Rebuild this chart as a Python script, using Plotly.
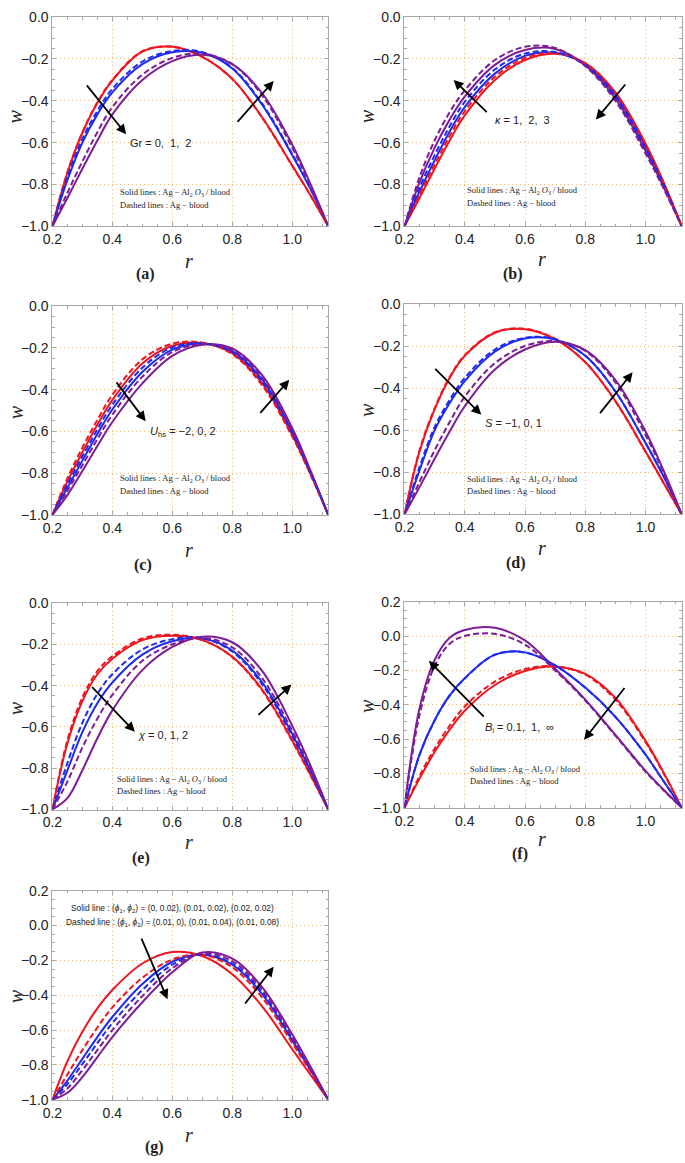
import plotly.graph_objects as go

# ---------------- data ----------------
R = [0.2, 0.25, 0.3, 0.35, 0.4, 0.5, 0.6, 0.7, 0.8, 0.9, 1.0, 1.06, 1.12]

# (a) Gr = 0, 1, 2
a_red_solid = [-1, -0.745, -0.554, -0.41, -0.303, -0.165, -0.142, -0.19, -0.295, -0.48, -0.71, -0.85, -1]
a_red_dash = [-1, -0.742, -0.551, -0.407, -0.30, -0.163, -0.141, -0.19, -0.296, -0.482, -0.712, -0.851, -1]
a_blue_solid = [-1, -0.78, -0.60, -0.465, -0.36, -0.225, -0.168, -0.17, -0.245, -0.42, -0.66, -0.82, -1]
a_blue_dash = [-1, -0.765, -0.582, -0.448, -0.343, -0.212, -0.162, -0.167, -0.243, -0.415, -0.655, -0.817, -1]
a_purple_solid = [-1, -0.865, -0.725, -0.59, -0.465, -0.30, -0.21, -0.18, -0.225, -0.365, -0.61, -0.796, -1]
a_purple_dash = [-1, -0.84, -0.69, -0.55, -0.43, -0.275, -0.195, -0.175, -0.225, -0.375, -0.625, -0.805, -1]

# (b) kappa = 1, 2, 3
b_red_solid = [-1, -0.865, -0.725, -0.59, -0.47, -0.30, -0.205, -0.175, -0.22, -0.36, -0.605, -0.79, -1]
b_red_dash = [-1, -0.85, -0.705, -0.568, -0.45, -0.285, -0.195, -0.172, -0.222, -0.365, -0.612, -0.795, -1]
b_blue_solid = [-1, -0.835, -0.685, -0.547, -0.43, -0.27, -0.185, -0.17, -0.226, -0.372, -0.62, -0.80, -1]
b_blue_dash = [-1, -0.815, -0.66, -0.522, -0.405, -0.25, -0.174, -0.167, -0.23, -0.38, -0.628, -0.805, -1]
b_purple_solid = [-1, -0.79, -0.625, -0.49, -0.38, -0.228, -0.157, -0.152, -0.23, -0.39, -0.64, -0.812, -1]
b_purple_dash = [-1, -0.765, -0.59, -0.455, -0.35, -0.205, -0.142, -0.147, -0.235, -0.40, -0.652, -0.82, -1]

# (c) U_hs = -2, 0, 2
c_red_solid = [-1, -0.84, -0.70, -0.568, -0.45, -0.275, -0.19, -0.176, -0.225, -0.37, -0.617, -0.80, -1]
c_red_dash = [-1, -0.825, -0.678, -0.545, -0.425, -0.255, -0.18, -0.175, -0.23, -0.38, -0.625, -0.805, -1]
c_blue_solid = [-1, -0.87, -0.74, -0.612, -0.495, -0.315, -0.208, -0.18, -0.215, -0.352, -0.602, -0.793, -1]
c_blue_dash = [-1, -0.855, -0.72, -0.59, -0.472, -0.295, -0.198, -0.178, -0.22, -0.362, -0.61, -0.797, -1]
c_purple_solid = [-1, -0.905, -0.79, -0.67, -0.555, -0.37, -0.238, -0.185, -0.203, -0.332, -0.585, -0.785, -1]
c_purple_dash = [-1, -0.885, -0.762, -0.637, -0.52, -0.338, -0.22, -0.182, -0.21, -0.343, -0.595, -0.79, -1]

# (d) S = -1, 0, 1
d_red_solid = [-1, -0.70, -0.50, -0.35, -0.245, -0.135, -0.118, -0.165, -0.275, -0.46, -0.70, -0.85, -1]
d_red_dash = [-1, -0.695, -0.495, -0.346, -0.242, -0.133, -0.116, -0.164, -0.276, -0.462, -0.702, -0.851, -1]
d_blue_solid = [-1, -0.79, -0.60, -0.47, -0.365, -0.225, -0.163, -0.168, -0.245, -0.415, -0.66, -0.82, -1]
d_blue_dash = [-1, -0.775, -0.585, -0.455, -0.35, -0.215, -0.159, -0.166, -0.245, -0.415, -0.66, -0.82, -1]
d_purple_solid = [-1, -0.87, -0.735, -0.605, -0.485, -0.31, -0.215, -0.178, -0.218, -0.36, -0.605, -0.792, -1]
d_purple_dash = [-1, -0.845, -0.695, -0.56, -0.44, -0.28, -0.198, -0.175, -0.222, -0.372, -0.622, -0.802, -1]

# (e) chi = 0, 1, 2
e_red_solid = [-1, -0.68, -0.475, -0.345, -0.27, -0.18, -0.158, -0.18, -0.26, -0.42, -0.665, -0.83, -1]
e_red_dash = [-1, -0.665, -0.458, -0.33, -0.258, -0.172, -0.154, -0.178, -0.262, -0.425, -0.67, -0.833, -1]
e_blue_solid = [-1, -0.81, -0.625, -0.485, -0.385, -0.25, -0.185, -0.172, -0.23, -0.385, -0.635, -0.81, -1]
e_blue_dash = [-1, -0.775, -0.58, -0.44, -0.345, -0.225, -0.175, -0.17, -0.235, -0.395, -0.645, -0.815, -1]
e_purple_solid = [-1, -0.945, -0.81, -0.655, -0.52, -0.325, -0.213, -0.163, -0.19, -0.33, -0.595, -0.785, -1]
e_purple_dash = [-1, -0.865, -0.70, -0.56, -0.445, -0.28, -0.20, -0.168, -0.215, -0.365, -0.62, -0.80, -1]

# (f) B_i = 0.1, 1, inf
f_red_solid = [-1, -0.83, -0.675, -0.545, -0.435, -0.285, -0.203, -0.178, -0.22, -0.36, -0.61, -0.795, -1]
f_red_dash = [-1, -0.815, -0.655, -0.522, -0.41, -0.265, -0.192, -0.176, -0.225, -0.37, -0.618, -0.80, -1]
f_blue_solid = [-1, -0.69, -0.49, -0.345, -0.245, -0.108, -0.095, -0.17, -0.30, -0.47, -0.69, -0.845, -1]
f_blue_dash = [-1, -0.692, -0.492, -0.347, -0.247, -0.109, -0.096, -0.171, -0.301, -0.471, -0.691, -0.846, -1]
f_purple_solid = [-1, -0.42, -0.14, -0.01, 0.035, 0.048, -0.025, -0.19, -0.37, -0.575, -0.785, -0.895, -1]
f_purple_dash = [-1, -0.46, -0.175, -0.045, 0.0, 0.013, -0.05, -0.20, -0.375, -0.58, -0.79, -0.898, -1]

# (g) (phi1, phi2)
g_red_solid = [-1, -0.78, -0.61, -0.475, -0.37, -0.218, -0.152, -0.175, -0.28, -0.465, -0.71, -0.855, -1]
g_red_dash = [-1, -0.855, -0.715, -0.585, -0.47, -0.30, -0.195, -0.168, -0.24, -0.415, -0.675, -0.835, -1]
g_blue_solid = [-1, -0.89, -0.765, -0.64, -0.525, -0.335, -0.208, -0.167, -0.225, -0.395, -0.66, -0.828, -1]
g_blue_dash = [-1, -0.91, -0.795, -0.675, -0.56, -0.37, -0.225, -0.166, -0.22, -0.385, -0.652, -0.823, -1]
g_purple_solid = [-1, -0.96, -0.87, -0.755, -0.64, -0.44, -0.268, -0.155, -0.19, -0.355, -0.625, -0.808, -1]
g_purple_dash = [-1, -0.935, -0.83, -0.715, -0.60, -0.405, -0.245, -0.16, -0.205, -0.37, -0.64, -0.815, -1]

X_TICKS = [0.2, 0.4, 0.6, 0.8, 1.0]

# ---------------- styling ----------------
RED = "#f0141e"
BLUE = "#1d2bf0"
PURPLE = "#7d1d96"
W = 685
H = 1163


def px(X):
    return X / W


def py(Y):
    return 1 - Y / H


panels = [
    ("a", [a_red_solid, a_red_dash, a_blue_solid, a_blue_dash, a_purple_solid, a_purple_dash], (43, 323), (9.3, 221.3), (-1, 0)),
    ("b", [b_red_solid, b_red_dash, b_blue_solid, b_blue_dash, b_purple_solid, b_purple_dash], (400.3, 681.7), (9.3, 221.3), (-1, 0)),
    ("c", [c_red_solid, c_red_dash, c_blue_solid, c_blue_dash, c_purple_solid, c_purple_dash], (43, 323), (302.3, 514), (-1, 0)),
    ("d", [d_red_solid, d_red_dash, d_blue_solid, d_blue_dash, d_purple_solid, d_purple_dash], (400.3, 681.7), (300.5, 513.5), (-1, 0)),
    ("e", [e_red_solid, e_red_dash, e_blue_solid, e_blue_dash, e_purple_solid, e_purple_dash], (43, 323), (603.3, 812.7), (-1, 0)),
    ("f", [f_red_solid, f_red_dash, f_blue_solid, f_blue_dash, f_purple_solid, f_purple_dash], (400.3, 681.7), (602, 811), (-1, 0.2)),
    ("g", [g_red_solid, g_red_dash, g_blue_solid, g_blue_dash, g_purple_solid, g_purple_dash], (43, 323), (895, 1107), (-1, 0.2)),
]

colors = [RED, RED, BLUE, BLUE, PURPLE, PURPLE]
dashes = ["solid", "6px,3px", "solid", "6px,3px", "solid", "6px,3px"]
order = [0, 2, 4, 1, 3, 5]

fig = go.Figure()
layout = {}
GRID = "#f3b877"
FRAME = "#a8a8a8"
tickfont = dict(family="Liberation Sans, Arial", size=14, color="#222")

for i, (name, curves, xd, yd, yr) in enumerate(panels, start=1):
    xa = "x" if i == 1 else f"x{i}"
    ya = "y" if i == 1 else f"y{i}"
    for k in order:
        fig.add_trace(go.Scatter(
            x=R, y=curves[k], mode="lines", xaxis=xa, yaxis=ya,
            line=dict(color=colors[k], width=2, dash=dashes[k], shape="spline", smoothing=1.0),
            showlegend=False, hoverinfo="skip"))
    common = dict(showline=True, linecolor=FRAME, linewidth=1, mirror="ticks",
                  ticks="inside", ticklen=4, tickcolor=FRAME, tickwidth=1,
                  showgrid=True, gridcolor=GRID, griddash="1px,3px", gridwidth=1,
                  zeroline=False, tickfont=tickfont, tickformat=".1f")
    layout["xaxis" if i == 1 else f"xaxis{i}"] = dict(
        common, domain=[px(xd[0]), px(xd[1])], range=[0.2, 1.12],
        tickvals=X_TICKS, anchor=ya,
        minor=dict(dtick=0.05, tick0=0.2, ticks="inside", ticklen=2.5, tickcolor=FRAME, showgrid=False))
    layout["yaxis" if i == 1 else f"yaxis{i}"] = dict(
        common, domain=[py(yd[1]), py(yd[0])], range=list(yr),
        tick0=-1, dtick=0.2, anchor=xa,
        minor=dict(dtick=0.05, tick0=-1, ticks="inside", ticklen=2.5, tickcolor=FRAME, showgrid=False))

annotations = []


def ax_ref(i):
    return ("x" if i == 1 else f"x{i}", "y" if i == 1 else f"y{i}")


def arrow(i, tail, head):
    xr, yr_ = ax_ref(i)
    annotations.append(dict(x=head[0], y=head[1], ax=tail[0], ay=tail[1], xref=xr, yref=yr_,
                            axref=xr, ayref=yr_, showarrow=True, arrowhead=2, arrowsize=1.1,
                            arrowwidth=1.8, arrowcolor="black", text=""))


def label(i, pos, text, size=11, family="Liberation Sans, Arial", anchor="left"):
    xr, yr_ = ax_ref(i)
    annotations.append(dict(x=pos[0], y=pos[1], xref=xr, yref=yr_, text=text, showarrow=False,
                            xanchor=anchor, yanchor="middle", font=dict(family=family, size=size, color="#222")))


SERIF = "Liberation Serif, Times New Roman, serif"
solid_txt = "Solid lines : Ag \u2212 Al<sub>2</sub> <i>O</i><sub>3</sub> / blood"
dash_txt = "Dashed lines : Ag \u2212 blood"
TS = 8.5

# (a)
arrow(1, (0.311, -0.319), (0.446, -0.56))
arrow(1, (0.813, -0.508), (0.938, -0.305))
label(1, (0.452, -0.603), "Gr = 0,  1,  2")
label(1, (0.42, -0.837), solid_txt, TS, SERIF)
label(1, (0.42, -0.899), dash_txt, TS, SERIF)
# (b)
arrow(2, (0.478, -0.461), (0.363, -0.30))
arrow(2, (0.937, -0.315), (0.835, -0.49))
label(2, (0.494, -0.49), "<i>\u03ba</i> = 1,  2,  3")
label(2, (0.402, -0.829), solid_txt, TS, SERIF)
label(2, (0.402, -0.89), dash_txt, TS, SERIF)
# (c)
arrow(3, (0.41, -0.358), (0.511, -0.551))
arrow(3, (0.889, -0.518), (0.99, -0.353))
label(3, (0.518, -0.603), "<i>U</i><sub>hs</sub> = \u22122, 0, 2")
label(3, (0.42, -0.825), solid_txt, TS, SERIF)
label(3, (0.42, -0.887), dash_txt, TS, SERIF)
# (d)
arrow(4, (0.297, -0.30), (0.455, -0.525))
arrow(4, (0.845, -0.525), (0.957, -0.323))
label(4, (0.461, -0.563), "<i>S</i> = \u22121, 0, 1")
label(4, (0.402, -0.834), solid_txt, TS, SERIF)
label(4, (0.402, -0.89), dash_txt, TS, SERIF)
# (e)
arrow(5, (0.328, -0.40), (0.475, -0.624))
arrow(5, (0.882, -0.548), (0.997, -0.395))
label(5, (0.479, -0.638), "<i>\u03c7</i> = 0, 1, 2")
label(5, (0.41, -0.853), solid_txt, TS, SERIF)
label(5, (0.41, -0.91), dash_txt, TS, SERIF)
# (f)
arrow(6, (0.468, -0.477), (0.281, -0.144))
arrow(6, (0.934, -0.294), (0.796, -0.604))
label(6, (0.461, -0.535), "<i>B</i><sub>i</sub> = 0.1,  1,  \u221e")
label(6, (0.412, -0.776), solid_txt, TS, SERIF)
label(6, (0.412, -0.845), dash_txt, TS, SERIF)
# (g)
arrow(7, (0.495, -0.066), (0.584, -0.423))
arrow(7, (0.839, -0.456), (0.938, -0.236))
label(7, (0.60, 0.098), "Solid line : (<i>\u03d5</i><sub>1</sub>, <i>\u03d5</i><sub>2</sub>) = (0, 0.02), (0.01, 0.02), (0.02, 0.02)", 8.4, anchor="center")
label(7, (0.60, 0.019), "Dashed line : (<i>\u03d5</i><sub>1</sub>, <i>\u03d5</i><sub>2</sub>) = (0.01, 0), (0.01, 0.04), (0.01, 0.08)", 8.4, anchor="center")

# axis titles and panel labels (paper positions)
w_pos = [(6, 110), (363, 110), (6, 410), (363, 408), (6, 710), (363, 708), (6, 1002)]
r_pos = [(182, 257), (540, 255), (182, 550), (540, 548), (182, 846), (540, 843), (182, 1143)]
tags = [("(a)", 138, 270), ("(b)", 510, 270), ("(c)", 135, 565), ("(d)", 513, 563),
        ("(e)", 133, 862), ("(f)", 518, 858), ("(g)", 147, 1155)]
for (X, Y) in w_pos:
    annotations.append(dict(x=px(X), y=py(Y), xref="paper", yref="paper", text="<i>w</i>",
                            showarrow=False, textangle=-90, xanchor="center", yanchor="middle",
                            font=dict(family=SERIF, size=20, color="#222")))
for (X, Y) in r_pos:
    annotations.append(dict(x=px(X), y=py(Y), xref="paper", yref="paper", text="<i>r</i>",
                            showarrow=False, xanchor="center", yanchor="middle",
                            font=dict(family=SERIF, size=20, color="#222")))
for (t, X, Y) in tags:
    annotations.append(dict(x=px(X), y=py(Y), xref="paper", yref="paper", text="<b>" + t + "</b>",
                            showarrow=False, xanchor="center", yanchor="middle",
                            font=dict(family=SERIF, size=16, color="#222")))

fig.update_layout(layout)
fig.update_layout(width=W, height=H, margin=dict(l=0, r=0, t=0, b=0),
                  paper_bgcolor="white", plot_bgcolor="white", annotations=annotations,
                  showlegend=False)

fig.write_html("out.html", config={"displayModeBar": False},
               post_script="document.body.style.margin='0px';document.body.style.overflow='hidden';")
